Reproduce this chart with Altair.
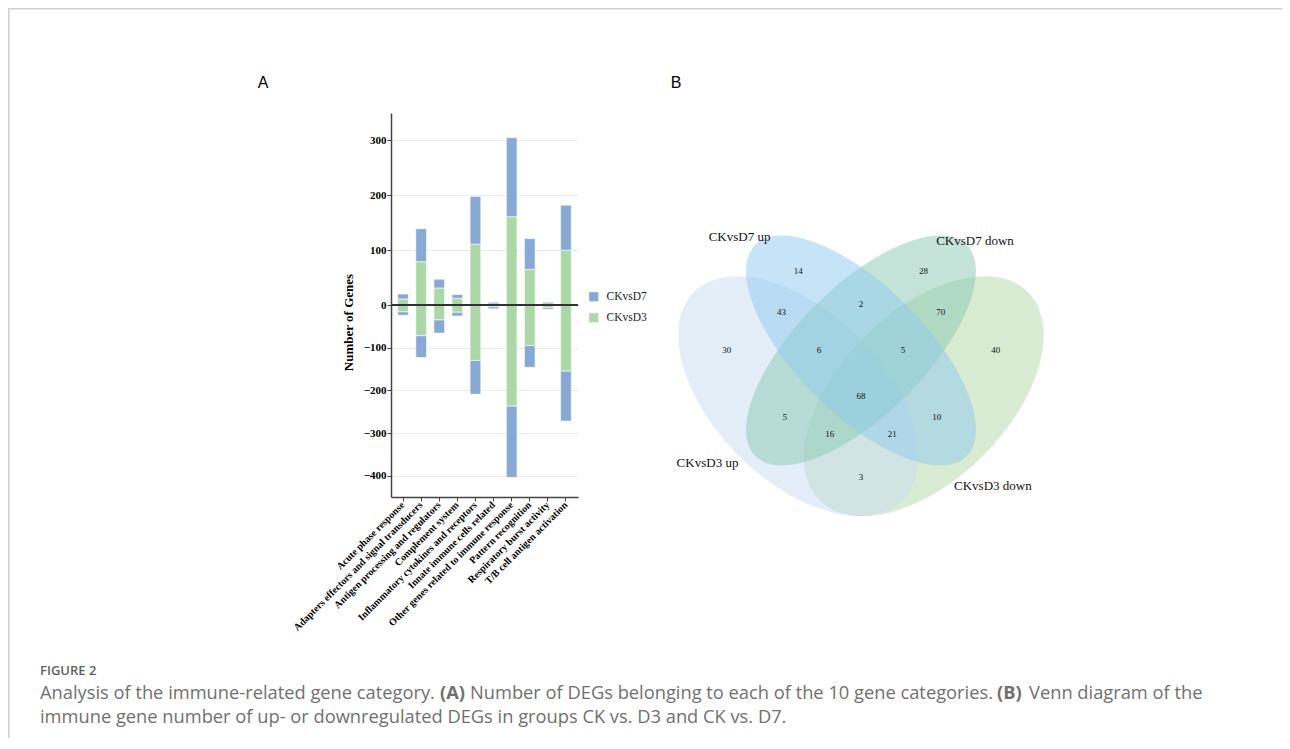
import altair as alt
import pandas as pd

# ---------------- data ----------------
categories = [
    "Acute phase response",
    "Adapters effectors and signal transducers",
    "Antigen processing and regulators",
    "Complement system",
    "Inflammatory cytokines and receptors",
    "Innate immune cells related",
    "Other genes related to immune response",
    "Pattern recognition",
    "Respiratory burst activity",
    "T/B cell antigen activation",
]
ckvsd3_up = [11, 79, 31, 12, 111, 2, 161, 65, 2, 100]
ckvsd7_up = [9, 60, 16, 7, 87, 3, 144, 56, 3, 82]
ckvsd3_down = [-16, -72, -35, -17, -130, -4, -237, -95, -6, -155]
ckvsd7_down = [-8, -51, -31, -9, -79, -5, -167, -51, -4, -117]
series_names = ["CKvsD7", "CKvsD3"]
y_tick_values = [-400, -300, -200, -100, 0, 100, 200, 300]

venn_set_names = ["CKvsD3 up", "CKvsD7 up", "CKvsD7 down", "CKvsD3 down"]
venn_region_counts = [30, 14, 28, 40, 43, 2, 70, 6, 5, 68, 5, 10, 16, 21, 3]

panel_letters = ["A", "B"]
caption_head = "FIGURE 2"
caption_normal_texts = [
    "Analysis of the immune-related gene category.",
    "Number of DEGs belonging to each of the 10 gene categories.",
    "Venn diagram of the",
    "immune gene number of up- or downregulated DEGs in groups CK vs. D3 and CK vs. D7.",
]
caption_bold_texts = ["(A)", "(B)"]

# ---------------- layout (page pixels -> canvas) ----------------
OX, OY = 10, 10
W, H = 1272, 728


def X(px):
    return px - OX


def Y(py):
    return py - OY


SERIF = "Liberation Serif"
SANS = "Liberation Sans"
CAPFONT = "Open Sans"
CAPSIZE = 18.3
CAPCOLOR = "#707070"
BLUE = "#89a9d5"
GREEN = "#acd8a8"
AX = "#444444"

# ---------------- panel A: stacked diverging bars ----------------
rows = []
for i, c in enumerate(categories):
    rows.append(dict(category=c, series="CKvsD3", ord=0, value=ckvsd3_up[i]))
    rows.append(dict(category=c, series="CKvsD7", ord=1, value=ckvsd7_up[i]))
    rows.append(dict(category=c, series="CKvsD3", ord=0, value=ckvsd3_down[i]))
    rows.append(dict(category=c, series="CKvsD7", ord=1, value=ckvsd7_down[i]))
bar_df = pd.DataFrame(rows)

x_enc = alt.X(
    "category:N",
    sort=categories,
    title=None,
    scale=alt.Scale(range=[X(391), X(578)], paddingInner=0.41, paddingOuter=0.37),
    axis=alt.Axis(
        orient="bottom",
        offset=Y(497) - H,
        labelAngle=-45,
        labelAlign="right",
        labelBaseline="middle",
        labelFont=SERIF,
        labelFontWeight="bold",
        labelFontSize=10,
        labelColor="#000000",
        labelPadding=2,
        labelLimit=400,
        tickSize=4,
        tickColor=AX,
        domainColor=AX,
        domainWidth=1.5,
        grid=False,
    ),
)
y_enc = alt.Y(
    "value:Q",
    stack="zero",
    title="Number of Genes",
    scale=alt.Scale(domain=[-450, 0, 350], range=[Y(497), Y(305), Y(113)], nice=False, zero=False),
    axis=alt.Axis(
        orient="left",
        offset=-X(391),
        values=y_tick_values,
        grid=True,
        gridColor="#ebebeb",
        gridWidth=1,
        labelFont=SERIF,
        labelFontWeight="bold",
        labelFontSize=11,
        labelColor="#000000",
        labelPadding=1,
        tickSize=4,
        tickColor=AX,
        domainColor=AX,
        domainWidth=1.5,
        titleFont=SERIF,
        titleFontWeight="bold",
        titleFontSize=13,
        titleColor="#000000",
        titleAngle=270,
        titleAlign="center",
        titleBaseline="middle",
        titleX=348 - 391,
        titleY=Y(322),
    ),
)
bars = alt.Chart(bar_df).mark_bar(stroke="white", strokeWidth=0.6).encode(
    x=x_enc,
    y=y_enc,
    color=alt.Color(
        "series:N",
        scale=alt.Scale(domain=series_names, range=[BLUE, GREEN]),
        legend=alt.Legend(
            title=None,
            orient="none",
            legendX=X(588),
            legendY=Y(291),
            symbolType="square",
            symbolSize=85,
            symbolStrokeWidth=0,
            labelFont=SERIF,
            labelFontSize=11.5,
            labelColor="#222222",
            rowPadding=8,
            labelOffset=7,
        ),
    ),
    order=alt.Order("ord:Q"),
)
zero_rule = alt.Chart(bar_df).mark_rule(color="#333333", strokeWidth=1.0).encode(
    y=alt.datum(0), x=alt.value(X(391)), x2=alt.value(X(578))
)
panel_a = alt.layer(bars, zero_rule)

# ---------------- panel B: Venn diagram ----------------
VPX = 416  # pixels per Venn unit
venn_cx_page, venn_y0_page = 861, 590
ell_ux = [0.349, 0.5, 0.5, 0.651]
ell_uy = [0.466, 0.576, 0.576, 0.466]
ell_a = [0.354, 0.359, 0.359, 0.354]
ell_ratio = [0.571, 0.429, 0.429, 0.571]
ell_angle = [45, 45, 135, 135]
ell_fill = ["#c9def4", "#8dc9ef", "#8acab4", "#b2d7a7"]
ell_draw = [1, 3, 2, 0]


def ellipse_path(r):
    return f"M -1 0 A 1 {r} 0 1 1 1 0 A 1 {r} 0 1 1 -1 0 Z"


ell_df = pd.DataFrame(
    dict(
        name=venn_set_names,
        ux=ell_ux,
        uy=ell_uy,
        angle=ell_angle,
        fill=ell_fill,
        draw=ell_draw,
        shape=[ellipse_path(r) for r in ell_ratio],
        size=[(2 * a * VPX) ** 2 for a in ell_a],
    )
)

vx = alt.Scale(domain=[0, 1], range=[X(venn_cx_page - VPX / 2), X(venn_cx_page + VPX / 2)], nice=False, zero=False)
vy = alt.Scale(domain=[0, 1], range=[Y(venn_y0_page), Y(venn_y0_page - VPX)], nice=False, zero=False)

ellipses = alt.Chart(ell_df).mark_point(filled=True, fillOpacity=0.5, strokeWidth=0, opacity=1).encode(
    x=alt.X("ux:Q", scale=vx, axis=None),
    y=alt.Y("uy:Q", scale=vy, axis=None),
    shape=alt.Shape("shape:N", scale=None),
    size=alt.Size("size:Q", scale=None),
    angle=alt.Angle("angle:Q", scale=None),
    fill=alt.Fill("fill:N", scale=None),
    order=alt.Order("draw:Q"),
)

count_ux = [0.177, 0.349, 0.650, 0.824, 0.309, 0.5, 0.692, 0.399, 0.601, 0.5, 0.317, 0.682, 0.425, 0.575, 0.5]
count_uy = [0.577, 0.768, 0.768, 0.577, 0.668, 0.688, 0.668, 0.577, 0.577, 0.466, 0.415, 0.415, 0.374, 0.374, 0.272]
count_df = pd.DataFrame(dict(n=venn_region_counts, ux=count_ux, uy=count_uy))
counts = alt.Chart(count_df).mark_text(
    font=SERIF, fontSize=9, color="#111111", align="center", baseline="middle"
).encode(x=alt.X("ux:Q", scale=vx, axis=None), y=alt.Y("uy:Q", scale=vy, axis=None), text="n:N")

setlab_ux = [0.131, 0.208, 0.774, 0.817]
setlab_uy = [0.306, 0.849, 0.840, 0.251]
setlab_df = pd.DataFrame(dict(name=venn_set_names, ux=setlab_ux, uy=setlab_uy))
set_labels = alt.Chart(setlab_df).mark_text(
    font=SERIF, fontSize=13, color="#111111", align="center", baseline="middle"
).encode(x=alt.X("ux:Q", scale=vx, axis=None), y=alt.Y("uy:Q", scale=vy, axis=None), text="name:N")

panel_b = alt.layer(ellipses, counts, set_labels)

# ---------------- panel letters, caption, frame ----------------
letters_df = pd.DataFrame(dict(t=panel_letters, px=[X(263), X(676)], py=[Y(83), Y(83)]))
letters = alt.Chart(letters_df).mark_text(
    font=SANS, fontSize=16, color="#000000", align="center", baseline="middle"
).encode(x=alt.X("px:Q", scale=None, axis=None), y=alt.Y("py:Q", scale=None, axis=None), text="t:N")

head_df = pd.DataFrame(dict(t=[caption_head], px=[X(40)], py=[Y(675)]))
head = alt.Chart(head_df).mark_text(
    font=CAPFONT, fontSize=13, fontWeight=600, color="#5f5f5f", align="left", baseline="alphabetic"
).encode(x=alt.X("px:Q", scale=None, axis=None), y=alt.Y("py:Q", scale=None, axis=None), text="t:N")

cap_norm_df = pd.DataFrame(
    dict(t=caption_normal_texts, px=[X(40), X(470), X(1029), X(40)], py=[Y(699), Y(699), Y(699), Y(723)])
)
cap_norm = alt.Chart(cap_norm_df).mark_text(
    font=CAPFONT, fontSize=CAPSIZE, color=CAPCOLOR, align="left", baseline="alphabetic"
).encode(x=alt.X("px:Q", scale=None, axis=None), y=alt.Y("py:Q", scale=None, axis=None), text="t:N")

cap_bold_df = pd.DataFrame(dict(t=caption_bold_texts, px=[X(440), X(997)], py=[Y(699), Y(699)]))
cap_bold = alt.Chart(cap_bold_df).mark_text(
    font=CAPFONT, fontSize=CAPSIZE, fontWeight="bold", color=CAPCOLOR, align="left", baseline="alphabetic"
).encode(x=alt.X("px:Q", scale=None, axis=None), y=alt.Y("py:Q", scale=None, axis=None), text="t:N")

frame_df = pd.DataFrame(dict(k=[0]))
frame_top = alt.Chart(frame_df).mark_rule(color="#d0d0d0", strokeWidth=1.6).encode(
    x=alt.value(-2), x2=alt.value(W + 2), y=alt.value(-1.2)
)
frame_left = alt.Chart(frame_df).mark_rule(color="#d0d0d0", strokeWidth=1.6).encode(
    x=alt.value(-1.2), y=alt.value(-2), y2=alt.value(H + 2)
)

chart = (
    alt.layer(panel_a, panel_b, letters, head, cap_norm, cap_bold, frame_top, frame_left)
    .resolve_scale(x="independent", y="independent", color="independent")
    .properties(
        width=W,
        height=H,
        padding={"left": 2, "top": 2, "right": 0, "bottom": 0},
        autosize=alt.AutoSizeParams(type="none"),
        background="white",
    )
    .configure_view(strokeWidth=0)
)

chart.save("out.html", embed_options={"renderer": "svg", "actions": False})
